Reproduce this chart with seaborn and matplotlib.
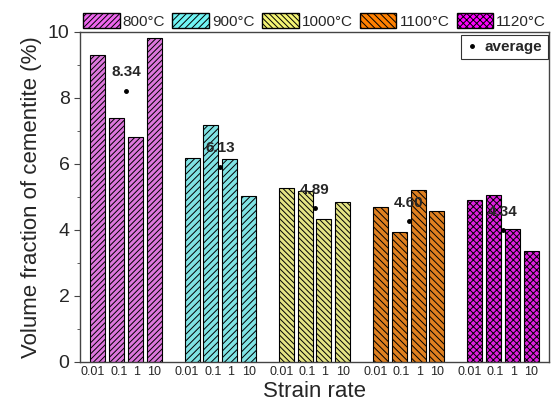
import numpy as np
import pandas as pd
import matplotlib
matplotlib.use("Agg")
import matplotlib.pyplot as plt
import matplotlib.transforms as mtransforms
import seaborn as sns
from matplotlib.patches import Patch
from matplotlib.lines import Line2D

temps = ["800°C", "900°C", "1000°C", "1100°C", "1120°C"]
rates = ["0.01", "0.1", "1", "10"]
v800 = [9.30, 7.39, 6.82, 9.82]
v900 = [6.18, 7.18, 6.15, 5.03]
v1000 = [5.27, 5.19, 4.33, 4.85]
v1100 = [4.71, 3.94, 5.22, 4.57]
v1120 = [4.92, 5.07, 4.02, 3.36]
avg_labels = ["8.34", "6.13", "4.89", "4.60", "4.34"]
avg_dots = [8.22, 5.92, 4.65, 4.27, 4.00]

colors = ["#EE66EE", "#70F4F4", "#F4F474", "#FF8000", "#FF00FF"]
hatches = ["//////", "/////", "\\\\\\\\\\\\", "\\\\\\\\\\", "xxxxx"]

series = [v800, v900, v1000, v1100, v1120]
rows = []
for g, (t, vals) in enumerate(zip(temps, series)):
    for i, (r, v) in enumerate(zip(rates, vals)):
        rows.append({"pos": 5 * g + i, "temp": t, "rate": r, "value": v})
df = pd.DataFrame(rows)

sns.set_style("ticks")
plt.rcParams["font.family"] = ["Liberation Sans", "DejaVu Sans"]
plt.rcParams["hatch.linewidth"] = 0.7

fig = plt.figure(figsize=(5.52, 4.09), dpi=100)
ax = fig.add_axes([0.145, 0.115, 0.8496, 0.807])

sns.barplot(data=df, x="pos", y="value", hue="temp", hue_order=temps,
            palette=colors, native_scale=True, dodge=False, width=0.8,
            edgecolor="black", linewidth=0.8, ax=ax, legend=False, errorbar=None)

for p in ax.patches:
    xc = p.get_x() + p.get_width() / 2
    g = int(round(xc)) // 5
    p.set_hatch(hatches[g])
    p.set_edgecolor("black")

for g in range(5):
    xd = 5 * g + 1.5
    ax.plot([xd], [avg_dots[g]], marker="o", ms=2.5, color="black", ls="none")
    ax.text(xd, avg_dots[g] + 0.55, avg_labels[g], ha="center", va="center",
            fontsize=11, fontweight="bold")

ax.set_xlim(-0.95, 23.95)
ax.set_ylim(0, 10)
ax.set_xticks(df["pos"].values)
ax.set_xticklabels(df["rate"].values, fontsize=9)
ax.tick_params(axis="x", length=0, pad=3)
# slight label offsets as in the reference
shift = {"0.01": -5, "0.1": 2, "1": 1, "10": 0}
for lab in ax.get_xticklabels():
    dx = shift.get(lab.get_text(), 0)
    lab.set_transform(lab.get_transform() + mtransforms.ScaledTranslation(dx / 100, 0, fig.dpi_scale_trans))

ax.set_yticks([0, 2, 4, 6, 8, 10])
ax.set_yticks([1, 3, 5, 7, 9], minor=True)
ax.tick_params(axis="y", which="major", labelsize=14, length=4, direction="out", color="#444444")
ax.tick_params(axis="y", which="minor", length=2.5, direction="out", color="#444444")
ax.set_xlabel("Strain rate", fontsize=16, labelpad=2)
ax.set_ylabel("Volume fraction of cementite (%)", fontsize=16, labelpad=4)
for s in ax.spines.values():
    s.set_visible(True)
    s.set_color("#444444")
    s.set_linewidth(1.0)

handles = [Patch(facecolor=c, edgecolor="black", hatch=h, label=t)
           for c, h, t in zip(colors, hatches, temps)]
leg1 = fig.legend(handles=handles, loc="lower left", ncol=5, frameon=False,
                  bbox_to_anchor=(0.145, 0.922, 0.85, 0.08), mode="expand",
                  fontsize=11, handlelength=2.4, handleheight=1.1,
                  handletextpad=0.2, columnspacing=0.5, borderaxespad=0.1,
                  borderpad=0.1)

avg_handle = [Line2D([0], [0], marker="o", ms=2.5, color="black", ls="none", label="average")]
leg2 = ax.legend(handles=avg_handle, loc="upper right", frameon=True, fancybox=False,
                 edgecolor="black", prop={"weight": "bold", "size": 11},
                 handlelength=0.8, handletextpad=0.4, borderpad=0.35,
                 borderaxespad=0, bbox_to_anchor=(0.997, 0.992))
leg2.get_frame().set_linewidth(0.8)

fig.savefig("out.png", dpi=100)
